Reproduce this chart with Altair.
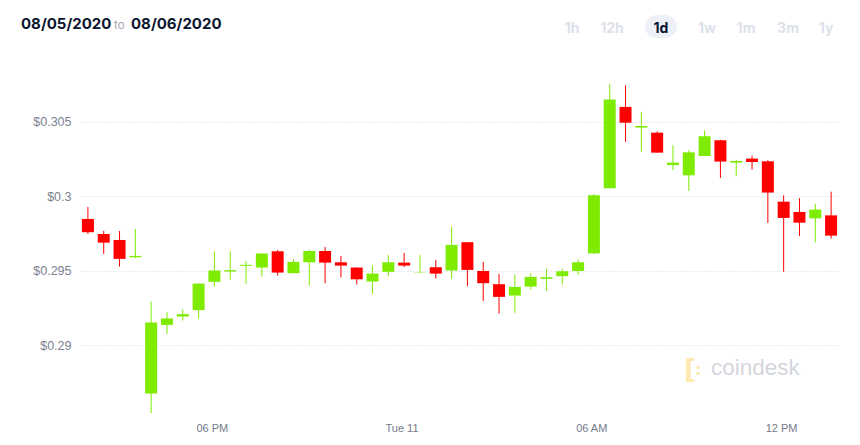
import altair as alt
import pandas as pd

# 30-minute candles, Mon 10 Aug 2020 14:00 -> Tue 11 Aug 2020 13:30 (local time)
times = [t.strftime("%Y/%m/%d %H:%M") for t in pd.date_range("2020-08-10 14:00", periods=48, freq="30min")]

opens = [0.29848, 0.29747, 0.29707, 0.29591, 0.28677, 0.29137, 0.29193, 0.29236,
         0.29426, 0.29495, 0.29533, 0.29522, 0.29631, 0.29484, 0.29557, 0.29633,
         0.29557, 0.29522, 0.29428, 0.29493, 0.29555, 0.29490, 0.29524, 0.29502,
         0.29692, 0.29499, 0.29410, 0.29334, 0.29394, 0.29446, 0.29464, 0.29499,
         0.29617, 0.30054, 0.30600, 0.30461, 0.30427, 0.30210, 0.30141, 0.30271,
         0.30376, 0.30226, 0.30253, 0.30235, 0.29964, 0.29895, 0.29852, 0.29872]
highs = [0.29928, 0.29768, 0.29768, 0.29781, 0.29294, 0.29222, 0.29242, 0.29414,
         0.29631, 0.29631, 0.29566, 0.29616, 0.29640, 0.29578, 0.29642, 0.29660,
         0.29600, 0.29522, 0.29537, 0.29607, 0.29620, 0.29607, 0.29573, 0.29797,
         0.29692, 0.29560, 0.29479, 0.29475, 0.29484, 0.29513, 0.29513, 0.29575,
         0.30016, 0.30752, 0.30745, 0.30568, 0.30436, 0.30342, 0.30309, 0.30443,
         0.30380, 0.30246, 0.30273, 0.30242, 0.30007, 0.29987, 0.29951, 0.30031]
lows = [0.29747, 0.29613, 0.29528, 0.29584, 0.28545, 0.29075, 0.29166, 0.29180,
        0.29394, 0.29441, 0.29414, 0.29461, 0.29468, 0.29484, 0.29401, 0.29417,
        0.29455, 0.29408, 0.29345, 0.29464, 0.29524, 0.29484, 0.29448, 0.29446,
        0.29397, 0.29298, 0.29213, 0.29218, 0.29374, 0.29365, 0.29408, 0.29474,
        0.29611, 0.30054, 0.30365, 0.30300, 0.30293, 0.30177, 0.30036, 0.30271,
        0.30123, 0.30136, 0.30179, 0.29821, 0.29494, 0.29734, 0.29691, 0.29716]
closes = [0.29759, 0.29689, 0.29580, 0.29600, 0.29153, 0.29180, 0.29209, 0.29414,
          0.29502, 0.29504, 0.29540, 0.29616, 0.29488, 0.29560, 0.29633, 0.29555,
          0.29535, 0.29443, 0.29481, 0.29557, 0.29535, 0.29492, 0.29481, 0.29674,
          0.29506, 0.29417, 0.29325, 0.29392, 0.29459, 0.29457, 0.29497, 0.29557,
          0.30007, 0.30649, 0.30494, 0.30472, 0.30293, 0.30226, 0.30295, 0.30403,
          0.30233, 0.30237, 0.30230, 0.30025, 0.29855, 0.29823, 0.29911, 0.29736]

y_ticks = [0.29, 0.295, 0.3, 0.305]
x_domain = ["2020/08/10 13:45", "2020/08/11 13:45"]
# label anchors sit a few minutes before the hour, as in the source chart
x_ticks = [alt.DateTime(year=2020, month=8, date=10, hours=17, minutes=55),
           alt.DateTime(year=2020, month=8, date=10, hours=23, minutes=55),
           alt.DateTime(year=2020, month=8, date=11, hours=5, minutes=55),
           alt.DateTime(year=2020, month=8, date=11, hours=11, minutes=55)]

df = pd.DataFrame({"time": times, "open": opens, "high": highs, "low": lows, "close": closes})

GREEN = "#7eeb00"
RED = "#ff0000"

x_enc = alt.X(
    "time:T",
    scale=alt.Scale(domain=x_domain, padding=0),
    axis=alt.Axis(
        values=x_ticks, title=None, domain=False, ticks=False, grid=False,
        labelExpr="hours(time(datum.value) + 300000) == 0 ? timeFormat(time(datum.value) + 300000, '%a %d') : timeFormat(time(datum.value) + 300000, '%I %p')",
        labelFont="Liberation Sans", labelFontSize=11, labelColor="#737a8a",
        labelPadding=6,
    ),
)
y_scale = alt.Scale(domain=[0.285255, 0.308074], zero=False, nice=False)
y_axis = alt.Axis(
    values=y_ticks, title=None, domain=False, ticks=False,
    labelExpr="'$' + datum.value", labelFont="Liberation Sans", labelFontSize=12.5,
    labelColor="#7b8191", labelPadding=9,
    grid=True, gridColor="#d3ddec", gridDash=[1, 2], gridWidth=1,
)
color_enc = alt.condition("datum.close >= datum.open", alt.value(GREEN), alt.value(RED))

base = alt.Chart(df).encode(x=x_enc)

wicks = base.mark_rule(strokeWidth=1).encode(
    y=alt.Y("low:Q", scale=y_scale, axis=y_axis),
    y2="high:Q",
    color=color_enc,
)
bodies = base.mark_bar(size=12).encode(
    y=alt.Y("open:Q", scale=y_scale),
    y2="close:Q",
    color=color_enc,
)

# Header: date range (left) and period selector (right); positions relative to plot origin (80, 76)
OX, OY = 80, 76
hdr = alt.Chart(pd.DataFrame({"a": [0]}))

def txt(s, x, y, size, color, weight="normal", align="left", font="Inter"):
    return hdr.mark_text(text=s, align=align, baseline="alphabetic", fontSize=size,
                         fontWeight=weight, color=color, font=font).encode(
        x=alt.value(x - OX), y=alt.value(y - OY))

header = [
    txt("08/05/2020", 21, 29, 15, "#0b1530", "bold"),
    txt("to", 114, 29, 11.5, "#a3a7b3"),
    txt("08/06/2020", 131, 29, 15, "#0b1530", "bold"),
]
pill = hdr.mark_rect(cornerRadius=12, color="#eef2f8").encode(
    x=alt.value(645 - OX), x2=alt.value(677 - OX), y=alt.value(15 - OY), y2=alt.value(38 - OY))
buttons = []
for lab, cx in [("1h", 572), ("12h", 612), ("1w", 707), ("1m", 746), ("3m", 788), ("1y", 826)]:
    buttons.append(txt(lab, cx, 33, 14, "#dde1ea", "bold", "center"))
buttons.append(txt("1d", 661, 33, 14, "#0b1530", "bold", "center"))

# watermark
wm = [
    txt("coindesk", 711, 375, 22.5, "#d3d6dd", "normal", "left", "Liberation Sans"),
    txt("[", 684, 378, 27, "#fde8b0", "bold", "left", "DejaVu Sans"),
    txt(":", 695, 375, 16, "#fde8b0", "bold", "left", "DejaVu Sans"),
]

chart = alt.layer(wicks, bodies, pill, *header, *buttons, *wm).properties(
    width=759, height=340,
    padding={"left": OX, "top": OY, "right": 21, "bottom": 29},
    autosize=alt.AutoSizeParams(type="none"),
    background="white",
).configure_view(stroke=None)

chart.save("out.html", embed_options={"renderer": "svg", "actions": False})
